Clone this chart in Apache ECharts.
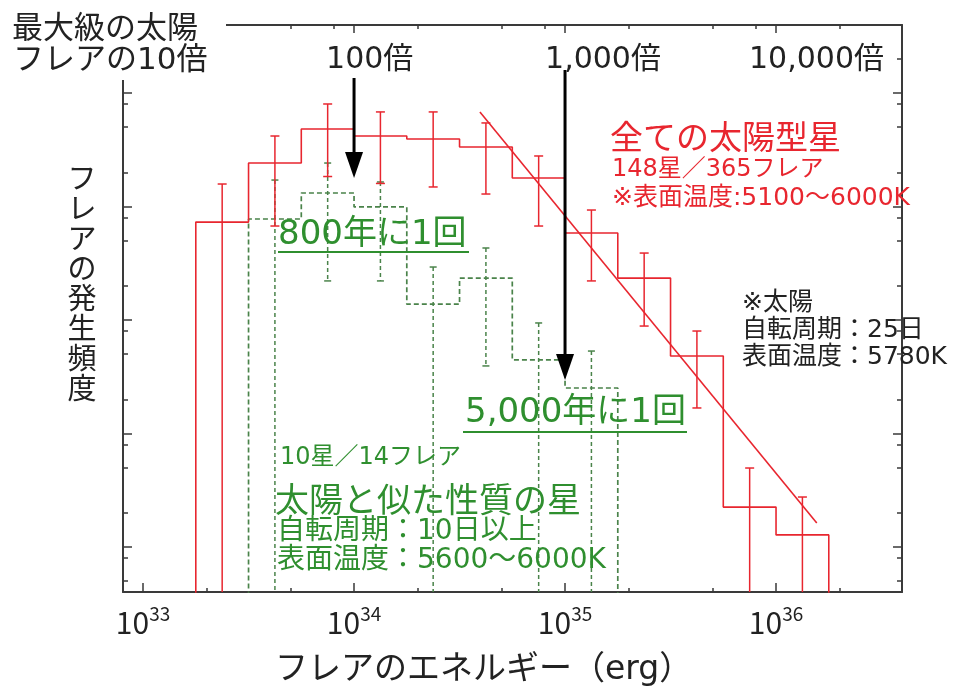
<!DOCTYPE html>
<html>
<head>
<meta charset="utf-8">
<script src="https://cdn.jsdelivr.net/npm/echarts@6/dist/echarts.min.js"></script>
<style>
  html, body { margin: 0; padding: 0; background: #fff; }
  #chart { width: 955px; height: 687px; }
</style>
</head>
<body>
<div id="chart"></div>
<script>
  // bin edges, log10(E / erg), 0.25 dex bins
  const allEdgesLog = [33.25, 33.5, 33.75, 34.0, 34.25, 34.5, 34.75, 35.0, 35.25, 35.5, 35.75, 36.0, 36.25]
  // 全ての太陽型星 (red)
  const allFreq = [729, 2415, 4819, 4178, 3936, 3342, 1782, 585, 234, 48.2, 2.25, 1.28]
  const allHi = [1578, 4178, 7998, 6808, 6808, 5445, 2786, 931, 389, 80, 4.97, 2.76]
  const allLo = [0.1, 673, 1837, 1596, 1486, 1288, 673, 221, 88.5, 16.8, 0.1, 0.1]

  // 太陽と似た性質の星 (green dashed)
  const slowEdgesLog = [33.5, 33.75, 34.0, 34.25, 34.5, 34.75, 35.0, 35.25]
  const slowFreq = [776, 1315, 991, 138, 234, 44.5, 25.2]
  const slowHi = [1710, 2415, 1644, 293, 431, 94.2, 53.3]
  const slowLo = [0.1, 221, 221, 0.1, 39.4, 0.1, 0.1]

  // power-law fit line
  const fitE = [3.95e34, 1.56e36]
  const fitN = [6800, 1.63]

  // arrows (100倍 / 1,000倍)
  const arrowE = [1e34, 1e35]
  const arrowFrom = [13550, 15950]
  const arrowTo = [1782, 29.6]

  // ticks
  const xMajor = [1e33, 1e34, 1e35, 1e36]
  const xMinorBottom = [2e33, 5e33, 2e34, 5e34, 2e35, 5e35, 2e36]
  const xMinorTop = [2e33, 5e33, 8e33, 2e34, 5e34, 8e34, 2e35, 5e35, 8e35, 2e36]
  const yMajor = [1, 10, 100, 1000, 10000]
  const yMinor = [0.5, 0.8, 2, 5, 8, 20, 50, 80, 200, 500, 800, 2000, 5000, 8000, 20000]
  const topLabels = ['100倍', '1,000倍', '10,000倍']
  const topLabelE = [1e34, 1e35, 1e36]

  const X_MIN = Math.pow(10, 32.905)
  const X_MAX = Math.pow(10, 36.597)
  const Y_MIN = 0.402
  const Y_MAX = 39700
  const FLOOR = 0.1

  const FONT = '"Noto Sans CJK JP", "Noto Sans", sans-serif'
  // wider latin digits, CJK falls back to Noto
  const FONT_MIX = '"DejaVu Sans", "Noto Sans CJK JP", sans-serif'
  const RED = '#e8262f'
  const GREEN = '#2f8f2f'
  const DASH_GREEN = '#4a834a'
  const AXIS = '#3a3a3a'

  function stepData(edgesLog, vals) {
    const pts = [[Math.pow(10, edgesLog[0]), FLOOR]]
    vals.forEach((v, i) => pts.push([Math.pow(10, edgesLog[i]), v]))
    pts.push([Math.pow(10, edgesLog[edgesLog.length - 1]), FLOOR])
    return pts
  }

  function errData(edgesLog, lo, hi) {
    return lo.map((l, i) => [Math.pow(10, (edgesLog[i] + edgesLog[i + 1]) / 2), l, hi[i]])
  }

  function errRender(color, dashed, capW) {
    return function (params, api) {
      const cs = params.coordSys
      const bottom = cs.y + cs.height
      const pHi = api.coord([api.value(0), api.value(2)])
      const pLo = api.coord([api.value(0), api.value(1)])
      const loOff = pLo[1] > bottom
      const yLo = Math.min(pLo[1], bottom)
      const x = pHi[0]
      const line = { stroke: color, lineWidth: 1.5, lineDash: dashed ? [4, 3] : null }
      const cap = { stroke: color, lineWidth: 1.5 }
      const children = [
        { type: 'line', shape: { x1: x, y1: pHi[1], x2: x, y2: yLo }, style: line },
        { type: 'line', shape: { x1: x - capW / 2, y1: pHi[1], x2: x + capW / 2, y2: pHi[1] }, style: cap }
      ]
      if (!loOff) {
        children.push({ type: 'line', shape: { x1: x - capW / 2, y1: yLo, x2: x + capW / 2, y2: yLo }, style: cap })
      }
      return { type: 'group', children }
    }
  }

  function arrowRender(params, api) {
    const p1 = api.coord([api.value(0), api.value(1)])
    const p2 = api.coord([api.value(0), api.value(2)])
    const headL = 26, headW = 9
    return {
      type: 'group',
      children: [
        { type: 'line', shape: { x1: p1[0], y1: p1[1], x2: p2[0], y2: p2[1] - headL + 2 }, style: { stroke: '#000', lineWidth: 3 } },
        { type: 'polygon', shape: { points: [[p2[0] - headW, p2[1] - headL], [p2[0] + headW, p2[1] - headL], [p2[0], p2[1]]] }, style: { fill: '#000' } }
      ]
    }
  }

  function xAxisDef(position, ticks, len, showLine, label) {
    return {
      type: 'log', position, min: X_MIN, max: X_MAX,
      axisLine: { show: showLine, onZero: false, lineStyle: { color: AXIS, width: 2 } },
      axisTick: { show: true, inside: true, length: len, customValues: ticks, lineStyle: { color: AXIS, width: 1.5 } },
      axisLabel: label || { show: false },
      splitLine: { show: false }, minorTick: { show: false }
    }
  }

  function yAxisDef(position, ticks, len, showLine) {
    return {
      type: 'log', position, min: Y_MIN, max: Y_MAX,
      axisLine: { show: showLine, onZero: false, lineStyle: { color: AXIS, width: 2 } },
      axisTick: { show: true, inside: true, length: len, customValues: ticks, lineStyle: { color: AXIS, width: 1.5 } },
      axisLabel: { show: false },
      splitLine: { show: false }, minorTick: { show: false }
    }
  }

  const bottomLabel = {
    show: true,
    customValues: xMajor,
    margin: 12,
    formatter: (v) => '{b|10}{s|' + Math.round(Math.log10(v)) + '}',
    rich: {
      b: { fontSize: 30, fontFamily: FONT, color: '#222', verticalAlign: 'bottom', lineHeight: 34 },
      s: { fontSize: 19, fontFamily: FONT, color: '#222', verticalAlign: 'top', lineHeight: 34 }
    }
  }

  function txt(text, x, y, size, color, extra, family) {
    return {
      type: 'text', x, y, z: 100,
      style: Object.assign({ text, font: size + 'px ' + (family || FONT_MIX), fill: color, verticalAlign: 'middle' }, extra || {})
    }
  }

  const chart = echarts.init(document.getElementById('chart'))

  const option = {
    animation: false,
    backgroundColor: '#fff',
    grid: { left: 123, right: 53, top: 25, bottom: 95 },
    xAxis: [
      xAxisDef('bottom', xMajor, 9, true, bottomLabel),
      xAxisDef('bottom', xMinorBottom, 4, false),
      xAxisDef('top', xMajor, 8, true),
      xAxisDef('top', xMinorTop, 4, false)
    ],
    yAxis: [
      yAxisDef('left', yMajor, 9, true),
      yAxisDef('left', yMinor, 5, false),
      yAxisDef('right', yMajor, 9, true),
      yAxisDef('right', yMinor, 5, false)
    ],
    series: [
      {
        name: '太陽と似た性質の星', type: 'line', step: 'end', symbol: 'none',
        data: stepData(slowEdgesLog, slowFreq),
        lineStyle: { color: DASH_GREEN, width: 1.7, type: [5, 3] }, z: 3
      },
      {
        type: 'custom', renderItem: errRender(DASH_GREEN, true, 7),
        data: errData(slowEdgesLog, slowLo, slowHi), encode: { x: 0, y: [1, 2] }, z: 3
      },
      {
        name: '全ての太陽型星', type: 'line', step: 'end', symbol: 'none',
        data: stepData(allEdgesLog, allFreq),
        lineStyle: { color: RED, width: 1.6 }, z: 4
      },
      {
        type: 'custom', renderItem: errRender(RED, false, 9),
        data: errData(allEdgesLog, allLo, allHi), encode: { x: 0, y: [1, 2] }, z: 4
      },
      {
        type: 'line', symbol: 'none',
        data: fitE.map((e, i) => [e, fitN[i]]),
        lineStyle: { color: RED, width: 1.6 }, z: 4
      },
      {
        type: 'custom', renderItem: arrowRender,
        data: arrowE.map((e, i) => [e, arrowFrom[i], arrowTo[i]]), encode: { x: 0, y: [1, 2] }, z: 6
      }
    ]
  }

  chart.setOption(option)

  const topTexts = topLabels.map((t, i) => {
    const px = chart.convertToPixel({ xAxisIndex: 0 }, topLabelE[i])
    const shift = [28, 20, 27][i]
    return txt(t, px - shift, 60, 30, '#222')
  })

  chart.setOption({
    graphic: [
      { type: 'rect', shape: { x: 0, y: 0, width: 226, height: 80 }, style: { fill: '#fff' }, z: 90 },
      txt('最大級の太陽', 12, 26, 31, '#222', null, FONT),
      txt('フレアの10倍', 13, 61, 31, '#222'),
      ...topTexts,
      txt('フ\nレ\nア\nの\n発\n生\n頻\n度', 82, 283, 29, '#222', { align: 'center', lineHeight: 30 }, FONT),
      txt('フレアのエネルギー（erg）', 275, 670, 33, '#222'),

      txt('全ての太陽型星', 610, 136, 33, RED, null, FONT),
      txt('148星／365フレア', 612, 170, 24, RED),
      txt('※表面温度:5100〜6000K', 612, 198, 25, RED),

      txt('※太陽', 742, 303, 25, '#222'),
      txt('自転周期：25日', 742, 330, 25, '#222'),
      txt('表面温度：5780K', 742, 357, 25, '#222'),

      txt('800年に1回', 278, 235, 34, GREEN),
      { type: 'line', z: 100, shape: { x1: 278, y1: 252, x2: 469, y2: 252 }, style: { stroke: GREEN, lineWidth: 2 } },
      txt('5,000年に1回', 465, 413, 34, GREEN),
      { type: 'line', z: 100, shape: { x1: 463, y1: 432, x2: 687, y2: 432 }, style: { stroke: GREEN, lineWidth: 2 } },
      txt('10星／14フレア', 280, 458, 24, GREEN),
      txt('太陽と似た性質の星', 275, 499, 34, GREEN, null, FONT),
      txt('自転周期：10日以上', 277, 532, 28, GREEN),
      txt('表面温度：5600〜6000K', 277, 561, 28, GREEN)
    ]
  })
</script>
</body>
</html>
